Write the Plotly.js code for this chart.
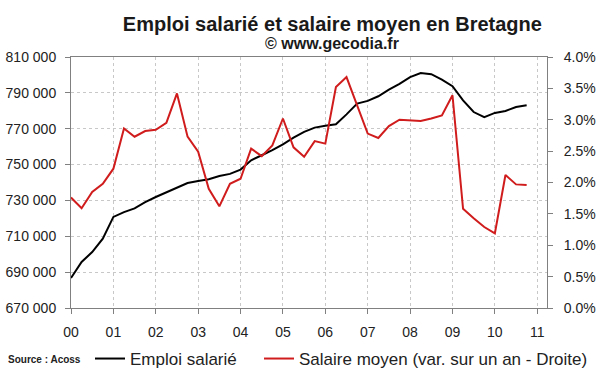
<!DOCTYPE html>
<html>
<head>
<meta charset="utf-8">
<script src="https://cdn.plot.ly/plotly-3.0.1.min.js"></script>
<style>html,body{margin:0;padding:0;background:#fff}#chart{width:600px;height:372px}</style>
</head>
<body>
<div id="chart"></div>
<script>
// Quarter positions (years since 2000), 2000-Q1 .. 2010-Q4
var periods = [0,0.25,0.5,0.75, 1,1.25,1.5,1.75, 2,2.25,2.5,2.75, 3,3.25,3.5,3.75,
  4,4.25,4.5,4.75, 5,5.25,5.5,5.75, 6,6.25,6.5,6.75, 7,7.25,7.5,7.75,
  8,8.25,8.5,8.75, 9,9.25,9.5,9.75, 10,10.25,10.5,10.75];

var emploiSalarie = [686700,695700,701200,708700, 720800,723500,725600,729000,
  731900,734400,737200,739700, 740800,741800,743600,744800,
  747200,752400,755200,758000, 761300,765000,768200,770600,
  771700,772500,778000,784000, 785500,788100,791800,795000,
  798800,801100,800400,797400, 793700,785800,779300,776500,
  778800,779900,782100,783100];

var salaireMoyen = [1.76,1.59,1.85,1.98, 2.22,2.86,2.73,2.82,
  2.84,2.95,3.42,2.73, 2.49,1.90,1.62,1.98,
  2.06,2.54,2.42,2.59, 3.02,2.56,2.41,2.66,
  2.62,3.52,3.68,3.22, 2.78,2.71,2.90,3.00,
  2.99,2.98,3.02,3.07, 3.39,1.58,1.43,1.29,
  1.19,2.12,1.97,1.96];

var yearTicks = [0,1,2,3,4,5,6,7,8,9,10,11];
var yearLabels = ["00","01","02","03","04","05","06","07","08","09","10","11"];

var FONT = "Liberation Sans, Arial, sans-serif";
var AXC = "#808080";
var GRID = "#c8c8c8";

var traces = [
  {x: periods, y: emploiSalarie, name: "Emploi salarié", type: "scatter", mode: "lines",
   line: {color: "#000000", width: 2}, yaxis: "y", legend: "legend"},
  {x: periods, y: salaireMoyen, name: "Salaire moyen (var. sur un an - Droite)", type: "scatter", mode: "lines",
   line: {color: "#d01c1c", width: 2}, yaxis: "y2", legend: "legend2"}
];

var legendBase = {orientation: "h", xref: "container", yref: "container",
  xanchor: "left", y: 0.035, yanchor: "middle",
  font: {family: FONT, size: 17, color: "#222"}, bgcolor: "rgba(0,0,0,0)",
  itemclick: false, itemdoubleclick: false};

var layout = {
  width: 600, height: 372,
  margin: {l: 71, r: 53, t: 57, b: 64, pad: 0},
  paper_bgcolor: "#ffffff", plot_bgcolor: "#ffffff",
  separators: ". ",
  font: {family: FONT, color: "#222222", size: 14},
  title: {text: "<b>Emploi salarié et salaire moyen en Bretagne</b>",
    font: {family: FONT, size: 20, color: "#1a1a1a"},
    x: 0.554, xanchor: "center", xref: "container", y: 0.935, yanchor: "middle", yref: "container"},
  xaxis: {range: [0, 11.23], tickvals: yearTicks, ticktext: yearLabels,
    showgrid: true, gridcolor: GRID, griddash: "dot", gridwidth: 1,
    showline: true, linecolor: AXC, linewidth: 1, mirror: true,
    ticks: "outside", ticklen: 5, tickcolor: AXC, tickwidth: 1,
    tickfont: {family: FONT, size: 14, color: "#222"}, ticklabelstandoff: 6,
    zeroline: false, fixedrange: true, automargin: false},
  yaxis: {range: [670000, 810000], dtick: 20000, tick0: 670000, tickformat: ",d",
    showgrid: true, gridcolor: GRID, griddash: "dot", gridwidth: 1,
    showline: true, linecolor: AXC, linewidth: 1,
    ticks: "outside", ticklen: 5, tickcolor: AXC, tickwidth: 1,
    tickfont: {family: FONT, size: 14, color: "#222"}, ticklabelstandoff: 6,
    zeroline: false, fixedrange: true, automargin: false},
  yaxis2: {range: [0, 4], dtick: 0.5, tick0: 0, tickformat: ".1f", ticksuffix: "%",
    overlaying: "y", side: "right", showgrid: false,
    showline: true, linecolor: AXC, linewidth: 1,
    ticks: "outside", ticklen: 5, tickcolor: AXC, tickwidth: 1,
    tickfont: {family: FONT, size: 14, color: "#222"}, ticklabelstandoff: 8,
    zeroline: false, fixedrange: true, automargin: false},
  showlegend: true,
  legend: Object.assign({}, legendBase, {x: 0.15}),
  legend2: Object.assign({}, legendBase, {x: 0.4317}),
  annotations: [
    {text: "<b>© www.gecodia.fr</b>", xref: "paper", yref: "paper", x: 0.548, y: 1.052,
     xanchor: "center", yanchor: "middle", showarrow: false,
     font: {family: FONT, size: 16, color: "#1a1a1a"}},
    {text: "<b>Source : Acoss</b>", xref: "paper", yref: "paper", x: -0.137, y: -0.207,
     xanchor: "left", yanchor: "middle", showarrow: false,
     font: {family: "Liberation Sans Narrow, " + FONT, size: 10, color: "#222"}}
  ]
};

Plotly.newPlot("chart", traces, layout, {displayModeBar: false, staticPlot: true});
</script>
</body>
</html>
